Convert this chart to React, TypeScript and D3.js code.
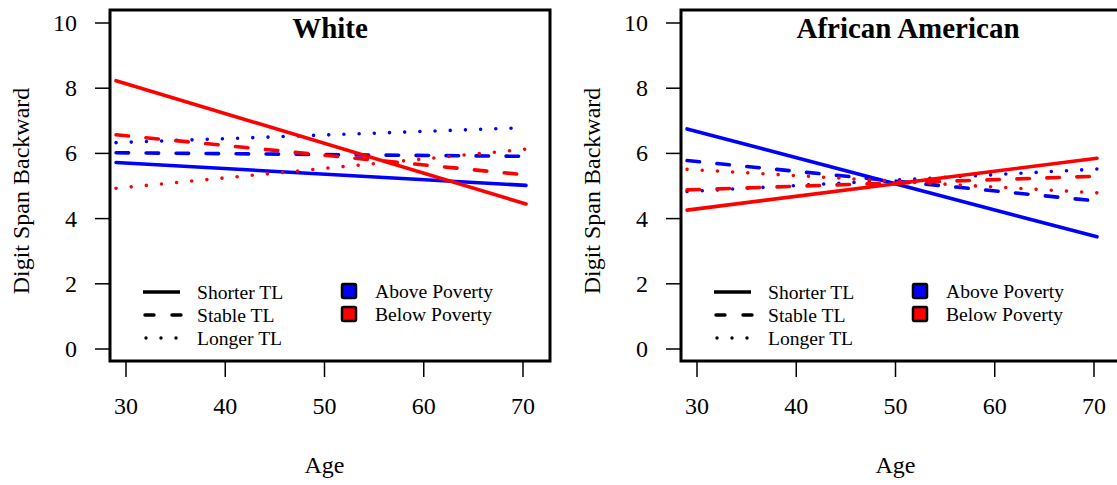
import React from 'react'
import * as d3 from 'd3'

// age range covered by the fitted lines
const ages = [29, 70.3]

// White panel: [value at start age, value at end age]
const whiteAboveShorter = [5.72, 5.02]
const whiteAboveStable = [6.02, 5.91]
const whiteAboveLonger = [6.33, 6.79]
const whiteBelowShorter = [8.23, 4.45]
const whiteBelowStable = [6.57, 5.34]
const whiteBelowLonger = [4.93, 6.13]

// African American panel
const aaAboveShorter = [6.75, 3.44]
const aaAboveStable = [5.78, 4.54]
const aaAboveLonger = [4.83, 5.52]
const aaBelowShorter = [4.26, 5.85]
const aaBelowStable = [4.88, 5.30]
const aaBelowLonger = [5.51, 4.79]

const xTicks = [30, 40, 50, 60, 70]
const yTicks = [0, 2, 4, 6, 8, 10]
const tlLabels = ['Shorter TL', 'Stable TL', 'Longer TL']
const povertyLabels = ['Above Poverty', 'Below Poverty']

const colorMap = {"above": "#0000ff", "below": "#ff0000"}
const dashMap: Record<string, string | undefined> = {"Shorter TL": undefined, "Stable TL": "12.5 17.5", "Longer TL": "0 15.2"}

const FONT = '"Liberation Serif", "Times New Roman", serif'

const layout = {"boxLeft": 110, "boxRight": 550, "boxTop": 10, "boxBottom": 361, "offset": 571}

const xScale = d3.scaleLinear().domain([30, 70]).range([126, 523])
const yScale = d3.scaleLinear().domain([0, 10]).range([349, 23])
const line = d3.line<[number, number]>().x(d => xScale(d[0])).y(d => yScale(d[1]))

const panels = [
  {"title": "White", "titleShift": 0, "series": [
    {"group": "above", "tl": "Shorter TL", "values": whiteAboveShorter},
    {"group": "above", "tl": "Stable TL", "values": whiteAboveStable},
    {"group": "above", "tl": "Longer TL", "values": whiteAboveLonger},
    {"group": "below", "tl": "Shorter TL", "values": whiteBelowShorter},
    {"group": "below", "tl": "Stable TL", "values": whiteBelowStable},
    {"group": "below", "tl": "Longer TL", "values": whiteBelowLonger},
  ]},
  {"title": "African American", "titleShift": 7, "series": [
    {"group": "above", "tl": "Shorter TL", "values": aaAboveShorter},
    {"group": "above", "tl": "Stable TL", "values": aaAboveStable},
    {"group": "above", "tl": "Longer TL", "values": aaAboveLonger},
    {"group": "below", "tl": "Shorter TL", "values": aaBelowShorter},
    {"group": "below", "tl": "Stable TL", "values": aaBelowStable},
    {"group": "below", "tl": "Longer TL", "values": aaBelowLonger},
  ]},
]

const Panel = ({panel, index}: {panel: typeof panels[0], index: number}) => {
  const {boxLeft, boxRight, boxTop, boxBottom} = layout
  const midX = (boxLeft + boxRight) / 2
  return (
    <g transform={`translate(${index * layout.offset}, 0)`}>
      {/* fitted lines */}
      {panel.series.map((s, i) => (
        <path key={i}
          d={line(ages.map((a, j) => [a, s.values[j]] as [number, number])) || ''}
          fill="none"
          stroke={colorMap[s.group as 'above' | 'below']}
          strokeWidth={3.6}
          strokeLinecap="round"
          strokeDasharray={dashMap[s.tl]} />
      ))}

      {/* box */}
      <rect x={boxLeft} y={boxTop} width={boxRight - boxLeft} height={boxBottom - boxTop}
        fill="none" stroke="#000" strokeWidth={3} />

      {/* y axis */}
      {yTicks.map(t => (
        <g key={t}>
          <line x1={95} x2={boxLeft} y1={yScale(t)} y2={yScale(t)} stroke="#000" strokeWidth={1.5} />
          <text x={77} y={yScale(t)} textAnchor="end" dominantBaseline="central"
            fontFamily={FONT} fontSize={24}>{t}</text>
        </g>
      ))}
      <text transform={`translate(29, 191) rotate(-90)`} textAnchor="middle"
        fontFamily={FONT} fontSize={24}>Digit Span Backward</text>

      {/* x axis */}
      {xTicks.map(t => (
        <g key={t}>
          <line x1={xScale(t)} x2={xScale(t)} y1={boxBottom} y2={377} stroke="#000" strokeWidth={1.5} />
          <text x={xScale(t)} y={414} textAnchor="middle" fontFamily={FONT} fontSize={24}>{t}</text>
        </g>
      ))}
      <text x={xScale(50)} y={473} textAnchor="middle" fontFamily={FONT} fontSize={24}>Age</text>

      {/* title */}
      <text x={midX + panel.titleShift} y={38} textAnchor="middle" fontFamily={FONT} fontSize={29} fontWeight="bold">{panel.title}</text>

      {/* legend: telomere length */}
      {tlLabels.map((l, i) => (
        <g key={l}>
          <line x1={143} x2={180} y1={292 + i * 23} y2={292 + i * 23} stroke="#000" strokeWidth={3.4}
            strokeLinecap={l === 'Shorter TL' ? 'butt' : 'round'}
            strokeDasharray={l === 'Stable TL' ? '9 18' : l === 'Longer TL' ? '0 15' : undefined}
            transform={l === 'Stable TL' ? 'translate(2,0)' : l === 'Longer TL' ? 'translate(3,0)' : undefined} />
          <text x={197} y={292 + i * 23} dominantBaseline="central" fontFamily={FONT} fontSize={19.6}>{l}</text>
        </g>
      ))}

      {/* legend: poverty */}
      {povertyLabels.map((l, i) => (
        <g key={l}>
          <rect x={342} y={284 + i * 23} width={14} height={14} rx={1.5}
            fill={i === 0 ? colorMap.above : colorMap.below} stroke="#000" strokeWidth={2.5} />
          <text x={375} y={291 + i * 23} dominantBaseline="central" fontFamily={FONT} fontSize={19.6}>{l}</text>
        </g>
      ))}
    </g>
  )
}

export default function App() {
  return (
    <div>
      <svg width={1117} height={485} style={{position: 'absolute', left: 0, top: 0, background: '#fff'}}>
        {panels.map((p, i) => <Panel key={p.title} panel={p} index={i} />)}
      </svg>
    </div>
  )
}
